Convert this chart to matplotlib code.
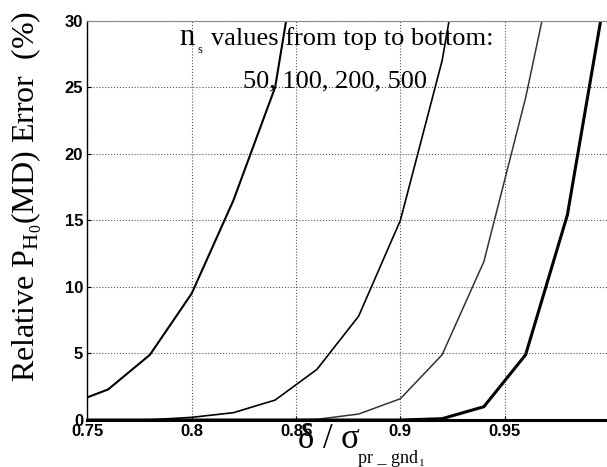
import matplotlib
matplotlib.use('Agg')
import matplotlib.pyplot as plt

plt.rcParams['mathtext.fontset'] = 'custom'
plt.rcParams['mathtext.rm'] = 'Liberation Serif'
plt.rcParams['mathtext.it'] = 'Liberation Serif:italic'

# delta / sigma ratio, sampled per curve
x_50 = [0.75, 0.76, 0.78, 0.80, 0.82, 0.84, 0.86]
y_50 = [1.7, 2.3, 4.9, 9.5, 16.5, 25.0, 44.0]

x_100 = [0.75, 0.76, 0.78, 0.80, 0.82, 0.84, 0.86, 0.88, 0.90, 0.92, 0.94]
y_100 = [0.0, 0.0, 0.02, 0.2, 0.55, 1.5, 3.8, 7.8, 15.0, 27.0, 45.0]

x_200 = [0.75, 0.80, 0.84, 0.86, 0.88, 0.90, 0.92, 0.94, 0.96, 0.98]
y_200 = [0.0, 0.0, 0.0, 0.05, 0.45, 1.6, 4.9, 11.9, 24.2, 39.0]

x_500 = [0.75, 0.80, 0.85, 0.90, 0.92, 0.94, 0.96, 0.98, 1.00]
y_500 = [0.0, 0.0, 0.0, 0.0, 0.1, 1.0, 4.9, 15.4, 33.7]

xticks = [0.75, 0.8, 0.85, 0.9, 0.95]
xticklabels = ['0.75', '0.8', '0.85', '0.9', '0.95']
yticks = [0, 5, 10, 15, 20, 25, 30]

W, H = 607, 467
fig = plt.figure(figsize=(W / 100, H / 100), dpi=100)
ax = fig.add_axes([0.1438, 0.1006, 0.8562, 0.855])


def px(x, y):
    # pixel position from the top-left corner -> figure fraction
    return x / W, 1 - y / H


ax.plot(x_50, y_50, color='black', lw=1.5)
ax.plot(x_100, y_100, color='black', lw=1.2)
ax.plot(x_200, y_200, color='#333333', lw=1.1)
ax.plot(x_500, y_500, color='black', lw=2.2)

ax.set_xlim(0.75, 0.999)
ax.set_ylim(0, 30)
ax.set_xticks(xticks)
ax.set_xticklabels(xticklabels)
ax.set_yticks(yticks)
for lab in ax.get_xticklabels() + ax.get_yticklabels():
    lab.set_fontfamily('Liberation Sans')
    lab.set_fontweight('bold')
    lab.set_fontsize(12)
ax.tick_params(direction='in', length=3, width=0.8, pad=3)

ax.grid(True, linestyle=':', color='#555555', linewidth=0.8)
ax.spines['right'].set_visible(False)
ax.spines['top'].set_color('#888888')
ax.spines['bottom'].set_linewidth(2.2)
ax.spines['left'].set_linewidth(1.0)

# y label
fig.text(*px(27, 196), r'Relative $\mathrm{P_{H_0}}$(MD) Error  (%)',
         family='Liberation Serif', fontsize=23, rotation=90,
         ha='center', va='center')

# x label: delta / sigma with a small subscript
fig.text(*px(297, 448), r'$\mathrm{\delta}$ / $\mathrm{\sigma}$',
         family='Liberation Serif', fontsize=25, ha='left', va='baseline')
fig.text(*px(358, 463), 'pr _ gnd',
         family='Liberation Serif', fontsize=13, ha='left', va='baseline')
fig.text(*px(419, 466), '1',
         family='Liberation Serif', fontsize=8, ha='left', va='baseline')

# annotation
fig.text(*px(179, 45), 'n', family='Liberation Serif', fontsize=22,
         ha='left', va='baseline')
fig.text(*px(197, 53), 's', family='Liberation Serif', fontsize=9,
         ha='left', va='baseline')
fig.text(*px(211, 45), 'values from top to bottom:',
         family='Liberation Serif', fontsize=19, ha='left', va='baseline')
fig.text(*px(243, 87), '50, 100, 200, 500',
         family='Liberation Serif', fontsize=19, ha='left', va='baseline')

fig.savefig('out.png', dpi=100)
